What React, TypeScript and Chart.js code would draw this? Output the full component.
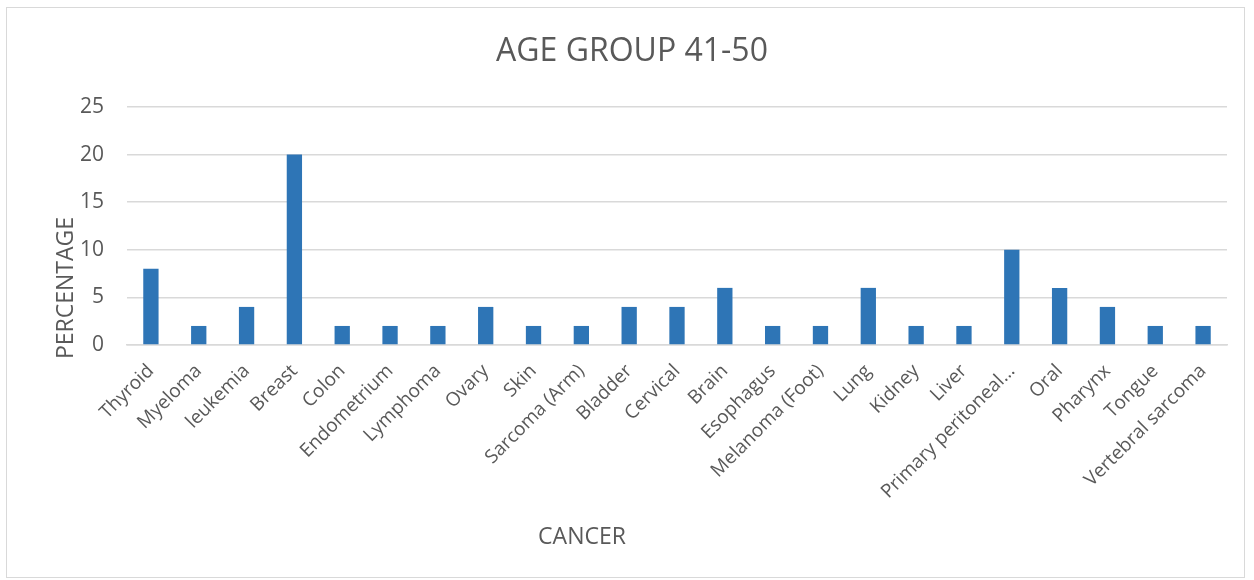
import React, { useEffect, useRef } from "react";
import { Chart, registerables } from "chart.js";

Chart.register(...registerables);

const categories: string[] = [
  "Thyroid", "Myeloma", "leukemia", "Breast", "Colon", "Endometrium", "Lymphoma", "Ovary",
  "Skin", "Sarcoma (Arm)", "Bladder", "Cervical", "Brain", "Esophagus", "Melanoma (Foot)",
  "Lung", "Kidney", "Liver", "Primary peritoneal…", "Oral", "Pharynx", "Tongue", "Vertebral sarcoma",
];
const percentages: number[] = [8, 2, 4, 20, 2, 2, 2, 4, 2, 2, 4, 4, 6, 2, 2, 6, 2, 2, 10, 6, 4, 2, 2];
const yTicks: number[] = [0, 5, 10, 15, 20, 25];
const chartTitle = "AGE GROUP 41-50";
const xTitle = "CANCER";
const yTitle = "PERCENTAGE";

const FONT = "'Open Sans', 'Noto Sans', sans-serif";
const TEXT = "#595959";

const titlesPlugin = {
  id: "customTitles",
  afterDraw(chart: any) {
    const ctx = chart.ctx;
    ctx.save();
    ctx.fillStyle = TEXT;
    ctx.textAlign = "center";
    ctx.textBaseline = "middle";
    ctx.font = `32px ${FONT}`;
    ctx.fillText(chartTitle, 632, 52);
    ctx.font = `23px ${FONT}`;
    ctx.fillText(xTitle, 582, 537);
    ctx.translate(66, 288);
    ctx.rotate(-Math.PI / 2);
    ctx.fillText(yTitle, 0, 0);
    ctx.restore();
  },
};

export default function App() {
  const ref = useRef<HTMLCanvasElement | null>(null);
  useEffect(() => {
    if (!ref.current) return;
    const chart = new Chart(ref.current, {
      type: "bar",
      data: {
        labels: categories,
        datasets: [
          {
            data: percentages,
            backgroundColor: "#2E75B6",
            borderWidth: 0,
            categoryPercentage: 0.64,
            barPercentage: 0.5,
          },
        ],
      },
      plugins: [titlesPlugin],
      options: {
        animation: false,
        responsive: false,
        maintainAspectRatio: false,
        layout: { padding: { left: 0, top: 107, right: 27, bottom: 0 } },
        plugins: { legend: { display: false }, title: { display: false }, tooltip: { enabled: false } },
        scales: {
          x: {
            grid: { display: false, drawTicks: false },
            border: { display: true, color: "#D9D9D9", width: 1.5 },
            ticks: {
              autoSkip: false,
              maxRotation: 45,
              minRotation: 45,
              padding: 15,
              color: TEXT,
              font: { family: FONT, size: 19 },
            },
            afterFit: (scale: any) => {
              scale.height = 235;
            },
          },
          y: {
            min: 0,
            max: 25,
            afterBuildTicks: (scale: any) => {
              scale.ticks = yTicks.map((v) => ({ value: v }));
            },
            grid: { color: "#D9D9D9", lineWidth: 1.5, drawTicks: false },
            border: { display: false },
            ticks: {
              padding: 23,
              color: TEXT,
              font: { family: FONT, size: 21 },
            },
            afterFit: (scale: any) => {
              scale.width = 127;
            },
          },
        },
      },
    });
    return () => chart.destroy();
  }, []);
  return (
    <div style={{ position: "fixed", left: 0, top: 0, width: 1254, height: 580, background: "#fff" }}>
      <div
        style={{
          position: "absolute",
          left: 6,
          top: 7,
          width: 1239,
          height: 571,
          border: "1.5px solid #D9D9D9",
          boxSizing: "border-box",
        }}
      />
      <canvas ref={ref} width={1254} height={580} style={{ position: "absolute", left: 0, top: 0 }} />
    </div>
  );
}
